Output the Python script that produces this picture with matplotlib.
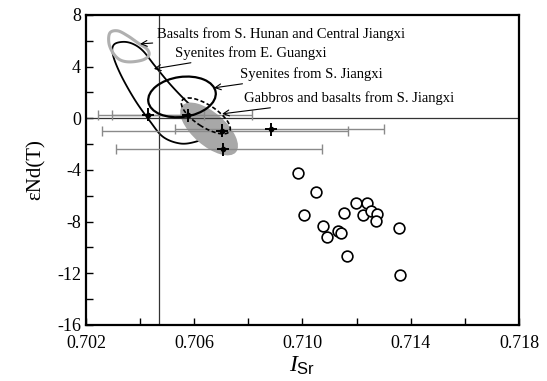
import numpy as np
import matplotlib
matplotlib.use('Agg')
import matplotlib.pyplot as plt
from matplotlib.patches import Ellipse, Polygon
from matplotlib.transforms import ScaledTranslation
from matplotlib.ticker import MultipleLocator

plt.rcParams['font.family'] = ['Liberation Serif', 'DejaVu Serif']
plt.rcParams['mathtext.fontset'] = 'custom'
plt.rcParams['mathtext.rm'] = 'Liberation Serif'
plt.rcParams['mathtext.it'] = 'Liberation Serif:italic'
plt.rcParams['mathtext.sf'] = 'Liberation Sans'
plt.rcParams['axes.unicode_minus'] = False

# open circles (this study)
circ_isr = [0.70985, 0.71049, 0.71006, 0.71075, 0.71091, 0.71132, 0.71142, 0.71154, 0.71199,
            0.71238, 0.71222, 0.71252, 0.71275, 0.71273, 0.71163, 0.71357, 0.71360]
circ_end = [-4.26, -5.68, -7.51, -8.31, -9.16, -8.70, -8.90, -7.33, -6.53,
            -6.55, -7.48, -7.17, -7.41, -7.97, -10.66, -8.51, -12.15]

# samples with error bars
pt_isr = [0.70430, 0.70578, 0.70704, 0.70884, 0.70707]
pt_end = [0.26, 0.22, -0.96, -0.85, -2.40]
pt_isr_lo = [0.70245, 0.70295, 0.70260, 0.70529, 0.70311]
pt_isr_hi = [0.70637, 0.70812, 0.71167, 0.71301, 0.71073]
pt_dx = 0.00022
pt_dy = 0.5

# reference lines
ref_isr = 0.7047
ref_end = 0.0

# field outlines
lens_isr = [0.70303, 0.70337, 0.70374, 0.70411, 0.70455, 0.70510, 0.70566, 0.70621, 0.70658,
            0.70651, 0.70603, 0.70547, 0.70485, 0.70436, 0.70381, 0.70329, 0.70300]
lens_end = [5.68, 5.91, 5.75, 5.21, 4.05, 2.66, 1.42, 0.34, -0.59,
            -1.37, -1.83, -1.95, -1.44, -0.21, 1.42, 3.36, 4.90]
bas_isr = [0.70289, 0.70318, 0.70355, 0.70392, 0.70425, 0.70433, 0.70411, 0.70363, 0.70326, 0.70300, 0.70285]
bas_end = [6.61, 6.76, 6.37, 5.83, 5.37, 4.90, 4.52, 4.36, 4.52, 5.06, 5.83]

# labels: text, text pos, arrow tip
labels = ['Basalts from S. Hunan and Central Jiangxi', 'Syenites from E. Guangxi',
          'Syenites from S. Jiangxi', 'Gabbros and basalts from S. Jiangxi']
label_pos = [(0.70462, 6.53), (0.70529, 5.06), (0.70769, 3.43), (0.70784, 1.57)]
label_tip = [(0.70400, 5.75), (0.70451, 3.82), (0.70673, 2.35), (0.70703, 0.34)]


def smooth_closed(xs, ys, n=24):
    # periodic Catmull-Rom through the outline points
    p = np.column_stack([xs, ys])
    k = len(p)
    out = []
    for i in range(k):
        p0, p1, p2, p3 = p[(i - 1) % k], p[i], p[(i + 1) % k], p[(i + 2) % k]
        t = np.linspace(0, 1, n, endpoint=False)[:, None]
        seg = 0.5 * ((2 * p1) + (-p0 + p2) * t + (2 * p0 - 5 * p1 + 4 * p2 - p3) * t ** 2
                     + (-p0 + 3 * p1 - 3 * p2 + p3) * t ** 3)
        out.append(seg)
    return np.vstack(out)


fig = plt.figure(figsize=(5.47, 3.81), dpi=100)
ax = fig.add_axes([0.157, 0.147, 0.792, 0.814])


def add_ellipse(x, y, w, h, ang, **kw):
    tr = fig.dpi_scale_trans + ScaledTranslation(x, y, ax.transData)
    ax.add_patch(Ellipse((0, 0), w, h, angle=ang, transform=tr, **kw))


ax.axvline(ref_isr, color='#333333', lw=0.9, zorder=2)
ax.axhline(ref_end, color='#333333', lw=0.9, zorder=2)

# fields
ax.add_patch(Polygon(smooth_closed(bas_isr, bas_end), closed=True, fill=False,
                     edgecolor='#b0b0b0', lw=2.2, zorder=3))
ax.add_patch(Polygon(smooth_closed(lens_isr, lens_end), closed=True, fill=False,
                     edgecolor='black', lw=1.3, zorder=1.5))
add_ellipse(0.70655, -0.83, 0.71, 0.33, -41, facecolor='#a8a8a8', edgecolor='none', zorder=1.8)
add_ellipse(0.70555, 1.65, 0.68, 0.40, 8, fill=False, edgecolor='black', lw=1.6, zorder=3)
add_ellipse(0.70643, 0.18, 0.566, 0.22, -33, fill=False, edgecolor='black', lw=1.2,
            ls=(0, (2.5, 1.5)), zorder=3.5)

# error bars
pt_isr_a = np.array(pt_isr)
xerr = [pt_isr_a - np.array(pt_isr_lo), np.array(pt_isr_hi) - pt_isr_a]
ax.errorbar(pt_isr, pt_end, xerr=xerr, fmt='none', ecolor='#8a8a8a', elinewidth=1.0,
            capsize=3.5, capthick=1.0, zorder=2.5)
ax.errorbar(pt_isr, pt_end, xerr=pt_dx, yerr=pt_dy, fmt='o', color='black', ms=3,
            elinewidth=1.4, capsize=0, zorder=5)

ax.scatter(circ_isr, circ_end, s=60, facecolors='white', edgecolors='black', linewidths=1.2, zorder=4)

for txt, pos, tip in zip(labels, label_pos, label_tip):
    ax.annotate(txt, xy=tip, xytext=pos, ha='left', va='center', fontsize=10.5,
                arrowprops=dict(arrowstyle='->', lw=0.8, color='black', shrinkA=1, shrinkB=0),
                zorder=6)

ax.set_xlim(0.702, 0.718)
ax.set_ylim(-16, 8)
ax.set_xticks([0.702, 0.706, 0.710, 0.714, 0.718])
ax.set_xticklabels(['0.702', '0.706', '0.710', '0.714', '0.718'])
ax.xaxis.set_minor_locator(MultipleLocator(0.002))
ax.set_yticks([-16, -12, -8, -4, 0, 4, 8])
ax.yaxis.set_minor_locator(MultipleLocator(2))
ax.tick_params(which='both', direction='in', top=False, right=False, width=1.0, labelsize=13)
ax.tick_params(which='both', length=5)
ax.tick_params(axis='x', pad=7)
for s in ax.spines.values():
    s.set_linewidth(1.6)

ax.set_xlabel(r'$\mathit{I}_{\mathsf{Sr}}$', fontsize=17, labelpad=2)
ax.set_ylabel('εNd(T)', fontsize=15, labelpad=8)

fig.savefig('out.png', dpi=100)
